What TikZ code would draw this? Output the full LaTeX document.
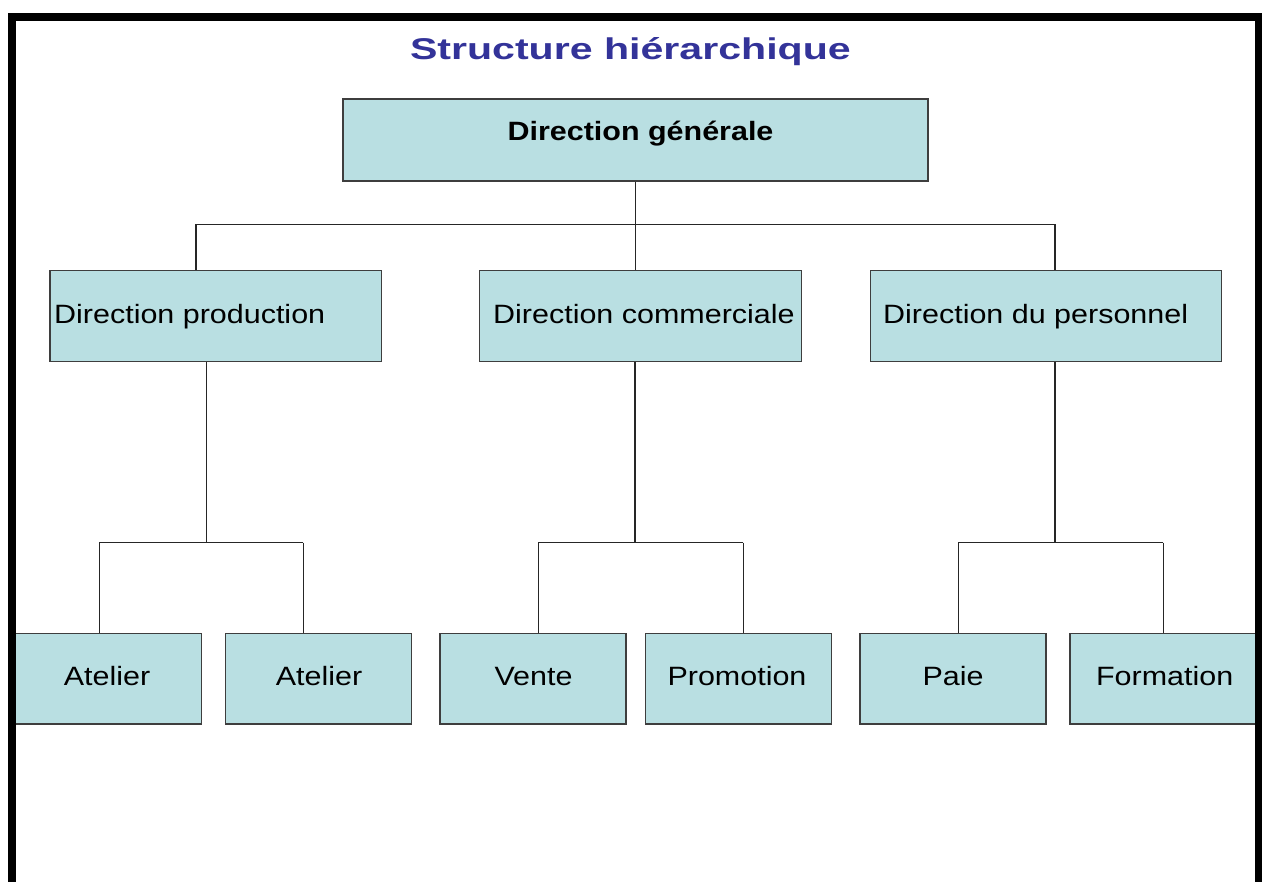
\documentclass[tikz,border=0pt]{standalone}
\usepackage{fontspec}
\setmainfont{Liberation Sans}
\definecolor{boxfill}{RGB}{185,223,226}
\definecolor{boxline}{RGB}{62,62,62}
\definecolor{titleblue}{RGB}{51,51,153}
% wide sans lettering
\newcommand{\widetext}[1]{\scalebox{1.15}[1]{#1}}

\begin{document}
\begin{tikzpicture}[x=1pt,y=-1pt,
  box/.style={draw=boxline, line width=1.5pt, fill=boxfill, inner sep=0pt, minimum height=91pt},
  lbl/.style={inner sep=0pt, font=\fontsize{26.5}{30}\selectfont, text=black},
  conn/.style={draw=black!85, line width=1.5pt}]

\useasboundingbox (0,0) rectangle (1262,882);
\fill[white] (0,0) rectangle (1262,882);

% ---- boxes ----
\node[box, minimum width=585pt, minimum height=82pt] (dg) at (635.5,140) {};

\node[box, minimum width=331.7pt] (dprod) at (215.85,316.2) {};
\node[box, minimum width=322.4pt] (dcom)  at (640.5,316.2) {};
\node[box, minimum width=351pt]   (dpers) at (1046.2,316.2) {};

\node[box, minimum width=186pt, minimum height=90.5pt] (at1)   at (108.7,678.75) {};
\node[box, minimum width=186pt, minimum height=90.5pt] (at2)   at (318.7,678.75) {};
\node[box, minimum width=186pt, minimum height=90.5pt] (vente) at (533,678.75) {};
\node[box, minimum width=186pt, minimum height=90.5pt] (promo) at (738.7,678.75) {};
\node[box, minimum width=186pt, minimum height=90.5pt] (paie)  at (953,678.75) {};
\node[box, minimum width=186pt, minimum height=90.5pt] (form)  at (1163,678.75) {};

% ---- junction points ----
\coordinate (topL) at (196,224.5);
\coordinate (topR) at (1055,224.5);
\coordinate (pL) at (99.3,542.7);   \coordinate (pR) at (303.3,542.7);   \coordinate (pD) at (206.3,542.7);
\coordinate (cL) at (538.3,542.7);  \coordinate (cR) at (743.3,542.7);   \coordinate (cD) at (635,542.7);
\coordinate (sL) at (958.3,542.7);  \coordinate (sR) at (1163.3,542.7);  \coordinate (sD) at (1055,542.7);

% ---- connectors ----
\draw[conn] (dg.south) -- (dg.south |- topL);
\draw[conn] (topL) -- (topR);
\draw[conn] (topL) -- (topL |- dprod.north);
\draw[conn] (dg.south |- topL) -- (dg.south |- dcom.north);
\draw[conn] (topR) -- (topR |- dpers.north);

\draw[conn] (pD |- dprod.south) -- (pD);
\draw[conn] (pL) -- (pR);
\draw[conn] (pL) -- (pL |- at1.north);
\draw[conn] (pR) -- (pR |- at2.north);

\draw[conn] (cD |- dcom.south) -- (cD);
\draw[conn] (cL) -- (cR);
\draw[conn] (cL) -- (cL |- vente.north);
\draw[conn] (cR) -- (cR |- promo.north);

\draw[conn] (sD |- dpers.south) -- (sD);
\draw[conn] (sL) -- (sR);
\draw[conn] (sL) -- (sL |- paie.north);
\draw[conn] (sR) -- (sR |- form.north);

% ---- texts ----
\node[lbl, font=\fontsize{30}{34}\selectfont\bfseries, text=titleblue, anchor=base] (title) at (630.4,60)
  {\scalebox{1.37}[1]{Structure hiérarchique}};

\node[lbl, font=\fontsize{26.5}{30}\selectfont\bfseries, anchor=base] (tdg) at (640.5,140.5)
  {\widetext{Direction générale}};

\node[lbl, anchor=base west] (tdprod) at (54,323.5) {\widetext{Direction production}};
\node[lbl, anchor=base west] (tdcom)  at (493,323.5) {\widetext{Direction commerciale}};
\node[lbl, anchor=base west] (tdpers) at (883,323.5) {\widetext{Direction du personnel}};

\node[lbl, anchor=base] (tat1)   at (107,685)   {\widetext{Atelier}};
\node[lbl, anchor=base] (tat2)   at (319,685)   {\widetext{Atelier}};
\node[lbl, anchor=base] (tvente) at (533.5,685) {\widetext{Vente}};
\node[lbl, anchor=base] (tpromo) at (737,685)   {\widetext{Promotion}};
\node[lbl, anchor=base] (tpaie)  at (953,685)   {\widetext{Paie}};
\node[lbl, anchor=base] (tform)  at (1164.7,685) {\widetext{Formation}};

% ---- black frame ----
\fill[black] (8,13) rectangle (1262,21);
\fill[black] (8,13) rectangle (16,882);
\fill[black] (1255,13) rectangle (1262,882);
\end{tikzpicture}
\end{document}
